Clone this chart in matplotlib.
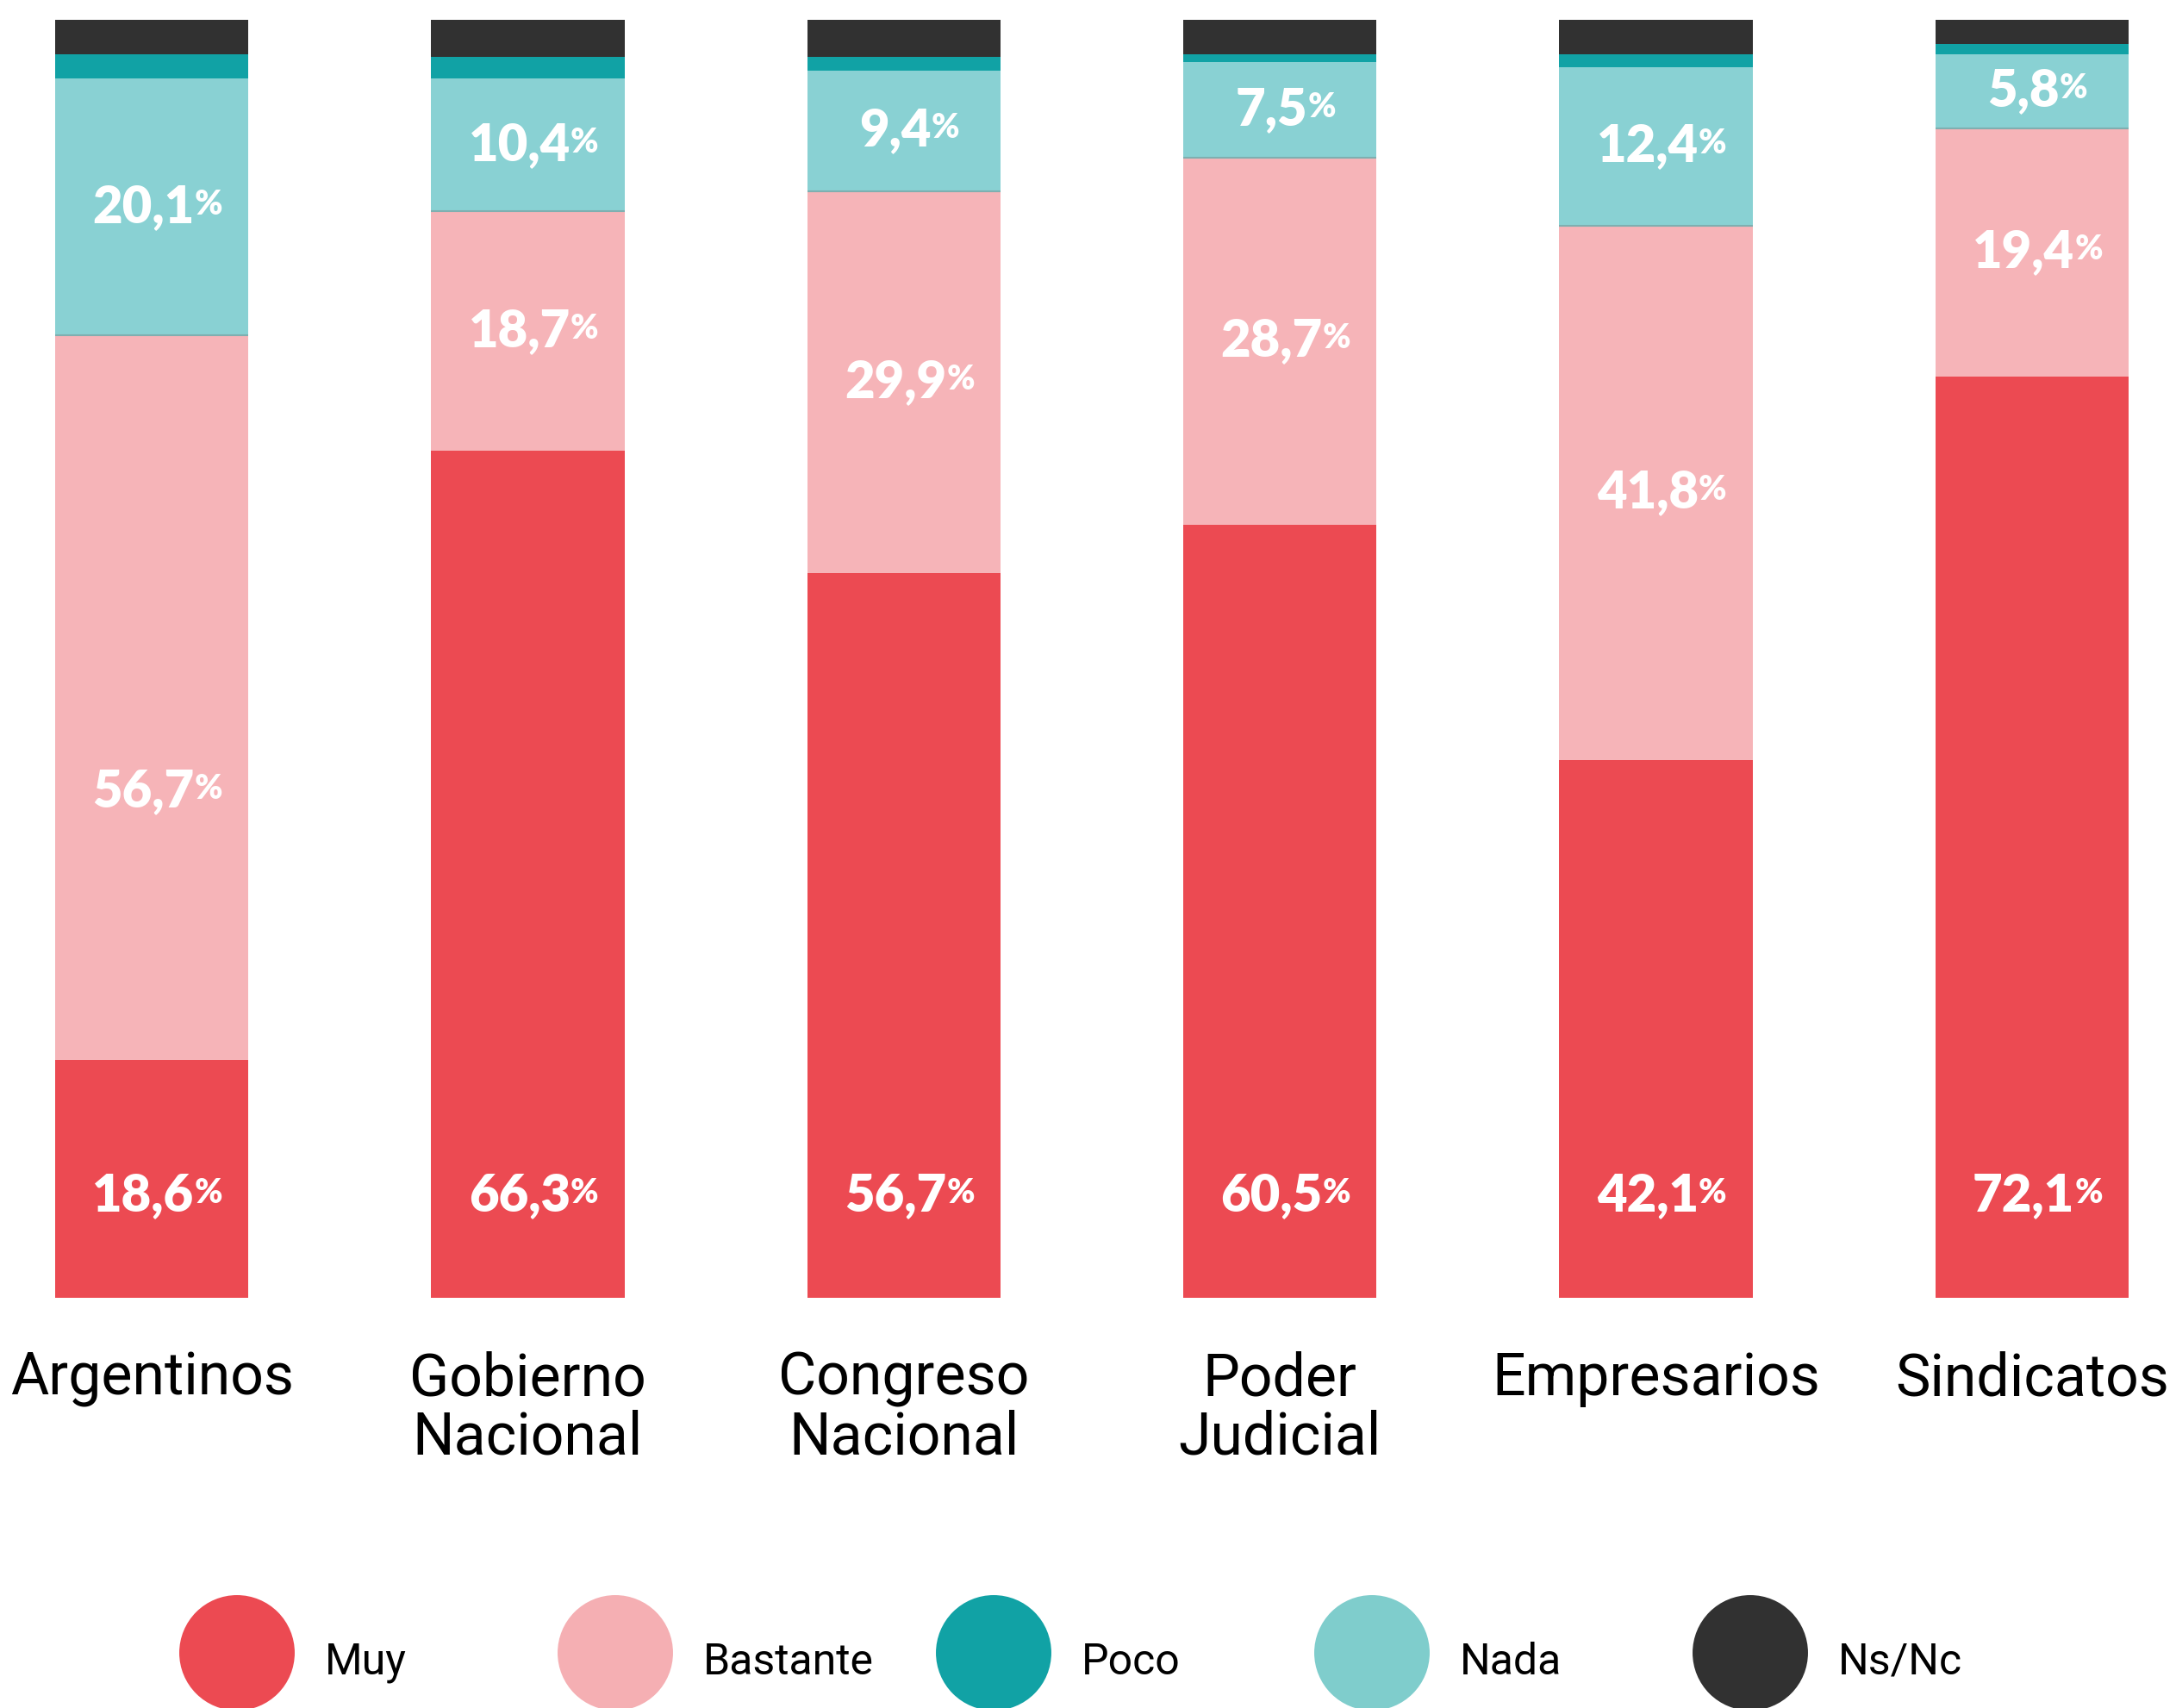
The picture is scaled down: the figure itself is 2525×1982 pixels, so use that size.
import numpy as np
import matplotlib
matplotlib.use("Agg")
import matplotlib.pyplot as plt
from matplotlib.transforms import offset_copy

# data
categorias = ["Argentinos", "Gobierno\nNacional", "Congreso\nNacional",
              "Poder\nJudicial", "Empresarios", "Sindicatos"]
muy = [18.6, 66.3, 56.7, 60.5, 42.1, 72.1]
bastante = [56.7, 18.7, 29.9, 28.7, 41.8, 19.4]
nada = [20.1, 10.4, 9.4, 7.5, 12.4, 5.8]
poco = [1.9, 1.7, 1.1, 0.6, 1.0, 0.8]
nsnc = [2.7, 2.9, 2.9, 2.7, 2.7, 1.9]

leyenda = ["Muy", "Bastante", "Poco", "Nada", "Ns/Nc"]

c_muy = "#EC4A52"
c_bas = "#F6B4B8"
c_poco = "#11A2A5"
c_nada = "#89D1D3"
c_ns = "#313131"
c_ley = [c_muy, "#F5AFB3", c_poco, "#7FCDCC", c_ns]


def fmt(v):
    return ("%.1f" % v).replace(".", ",")


fig = plt.figure(figsize=(25.25, 19.82), dpi=100)
ax = fig.add_axes([64/2525, 1-1506/1982, (2470-64)/2525, (1506-23)/1982])

x = np.arange(len(categorias))
w = 0.514
muy_a = np.array(muy)
bas_a = np.array(bastante)
nada_a = np.array(nada)
poco_a = np.array(poco)
ns_a = np.array(nsnc)

ax.bar(x, muy_a, w, color=c_muy)
ax.bar(x, bas_a, w, bottom=muy_a, color=c_bas)
ax.bar(x, nada_a, w, bottom=muy_a+bas_a, color=c_nada)
ax.bar(x, poco_a, w, bottom=muy_a+bas_a+nada_a, color=c_poco)
ax.bar(x, ns_a, w, bottom=muy_a+bas_a+nada_a+poco_a, color=c_ns)
# thin seam between bastante and nada
ax.hlines(muy_a+bas_a, x-w/2, x+w/2, color="#7FAFB0", lw=1.5)

ax.set_xlim(-w/2, len(categorias)-1+w/2)
ax.set_ylim(0, 100)
for s in ax.spines.values():
    s.set_visible(False)
ax.set_yticks([])
ax.set_xticks(x, categorias)
ax.tick_params(axis="x", length=0, pad=44)
for t in ax.get_xticklabels():
    t.set_fontfamily("Roboto")
    t.set_fontsize(49)
    t.set_linespacing(1.05)


def etiqueta(xi, yi, v):
    tr = offset_copy(ax.transData, fig=fig, x=-7, y=0, units="points")
    t = ax.text(xi, yi, fmt(v), transform=tr, ha="center", va="center",
                color="white", fontsize=43, fontweight="heavy", family="Lato")
    ax.annotate("%", xy=(1.0, 0.22), xycoords=t, ha="left", va="bottom",
                color="white", fontsize=28, fontweight="heavy", family="Lato")


for i in range(len(categorias)):
    # muy: fixed height near bottom
    etiqueta(x[i], 8.0, muy[i])
    yb = muy[i] + bastante[i]/2
    if i == 0:
        yb = 39.6
    etiqueta(x[i], yb, bastante[i])
    etiqueta(x[i], muy[i] + bastante[i] + nada[i]/2, nada[i])

# legend
lax = fig.add_axes([0, 0, 1, 0.1])
lax.set_xlim(0, 1)
lax.set_ylim(0, 1)
lax.axis("off")
lx = 275/2525 + np.arange(len(leyenda))*439/2525
lax.scatter(lx, np.full(len(lx), 0.323), s=9300, c=c_ley, clip_on=False,
            linewidths=0)
for i, nombre in enumerate(leyenda):
    lax.text(lx[i] + 102/2525, 0.293, nombre, ha="left", va="center_baseline",
             fontsize=36, family="Roboto", color="black")

fig.savefig("out.png", dpi=100)
